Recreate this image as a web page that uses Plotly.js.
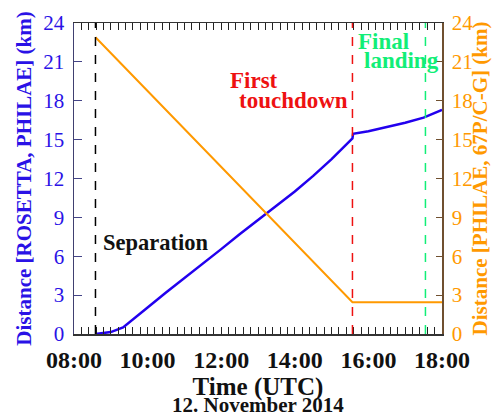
<!DOCTYPE html>
<html><head><meta charset="utf-8">
<script src="https://cdn.plot.ly/plotly-3.0.1.min.js"></script>
<style>html,body{margin:0;padding:0;background:#fff}#chart{width:492px;height:418px}</style>
</head><body><div id="chart"></div>
<script>
const day = "2014-11-12 ";
// Distance ROSETTA - PHILAE (km), left axis
const rosettaTimes = ["08:35","09:00","09:20","09:40","10:00","10:30","11:00","11:30","12:00","12:30","13:00","13:30","14:00","14:30","15:00","15:34","15:35","16:00","16:30","17:00","17:30","18:00"];
const rosettaDist  = [0, 0.15, 0.5, 1.3, 2.05, 3.2, 4.3, 5.4, 6.55, 7.7, 8.8, 9.9, 11.0, 12.2, 13.5, 15.1, 15.45, 15.65, 15.95, 16.3, 16.7, 17.3];
// Distance PHILAE - 67P/C-G (km), right axis
const cometTimes = ["08:35","15:34","18:00"];
const cometDist  = [22.9, 2.45, 2.45];
// events
const eventTimes  = ["08:35","15:34","17:33"];
const eventColors = ["#000000","#ee1111","#11ee77"];
const yTicks = [0,3,6,9,12,15,18,21,24];

const F = "'Liberation Serif', 'Times New Roman', serif";
const blue = "#2a12e6", orange = "#ff9900";

const traces = [
  {x: rosettaTimes.map(t => day + t), y: rosettaDist, type: "scatter", mode: "lines",
   line: {color: "#2200ee", width: 2.5}, yaxis: "y", hoverinfo: "skip"},
  {x: cometTimes.map(t => day + t), y: cometDist, type: "scatter", mode: "lines",
   line: {color: orange, width: 2}, yaxis: "y2", hoverinfo: "skip"}
];

const shapes = eventTimes.map((t, i) => ({
  type: "line", xref: "x", yref: "paper", x0: day + t, x1: day + t, y0: 0, y1: 1,
  line: {color: eventColors[i], width: 1.5, dash: "dash"}
}));

const ann = (text, x, y, xanchor, color, size) => ({
  text: "<b>" + text + "</b>", x: day + x, y, xref: "x", yref: "y", xanchor, yanchor: "middle",
  showarrow: false, font: {family: F, size, color}
});

const layout = {
  width: 492, height: 418,
  font: {family: F},
  margin: {l: 74, r: 50, t: 23, b: 84},
  paper_bgcolor: "#fff", plot_bgcolor: "#fff",
  showlegend: false,
  xaxis: {
    type: "date", range: [day + "08:00", day + "18:00"],
    dtick: 7200000, tickformat: "%H:%M", tickprefix: "<b>", ticksuffix: "</b>",
    ticks: "inside", ticklen: 7, tickcolor: "#222", tickwidth: 1,
    minor: {dtick: 720000, ticks: "inside", ticklen: 4, tickcolor: "#222", tickwidth: 1},
    showline: true, linecolor: "#333", linewidth: 1.5, mirror: "allticks",
    showgrid: false, zeroline: false,
    tickfont: {family: F, size: 24, color: "#111"},
    ticklabelstandoff: 4,
    title: {text: "<b>Time (UTC)</b>", font: {family: F, size: 25, color: "#111"}, standoff: 0}
  },
  yaxis: {
    range: [0, 24], tickvals: yTicks, ticks: "inside", ticklen: 8, tickcolor: "#444488",
    tickprefix: "<b>", ticksuffix: "</b>",
    showline: true, linecolor: "#404070", linewidth: 1.5,
    showgrid: false, zeroline: false,
    tickfont: {family: F, size: 21, color: blue},
    ticklabelstandoff: 4,
    title: {text: "<b>Distance [ROSETTA, PHILAE] (km)</b>", font: {family: F, size: 21, color: blue}, standoff: 6}
  },
  yaxis2: {
    range: [0, 24], tickvals: yTicks, overlaying: "y", side: "right",
    tickprefix: "<b>", ticksuffix: "</b>",
    ticks: "inside", ticklen: 6, tickcolor: "#705030",
    showline: true, linecolor: "#705030", linewidth: 1.5,
    showgrid: false, zeroline: false,
    tickfont: {family: F, size: 21, color: orange},
    ticklabelstandoff: 4,
    title: {text: "<b>Distance [PHILAE, 67P/C-G] (km)</b>", font: {family: F, size: 21, color: orange}, standoff: 6}
  },
  shapes,
  annotations: [
    ann("Separation", "08:35", 7.1, "left", "#111", 22.5),
    ann("First", "12:11", 19.55, "left", "#ee1111", 23),
    ann("touchdown", "15:30", 18.0, "right", "#ee1111", 23),
    ann("Final", "15:40", 22.6, "left", "#11ee77", 23),
    ann("landing", "15:49", 21.1, "left", "#11ee77", 23),
    {text: "<b>12. November 2014</b>", xref: "paper", yref: "paper", x: 0.5, y: -0.182, yanchor: "top", xanchor: "center",
     showarrow: false, font: {family: F, size: 21, color: "#111"}}
  ]
};
layout.annotations[0].xshift = 6;

Plotly.newPlot("chart", traces, layout, {staticPlot: true, displayModeBar: false});
</script></body></html>
